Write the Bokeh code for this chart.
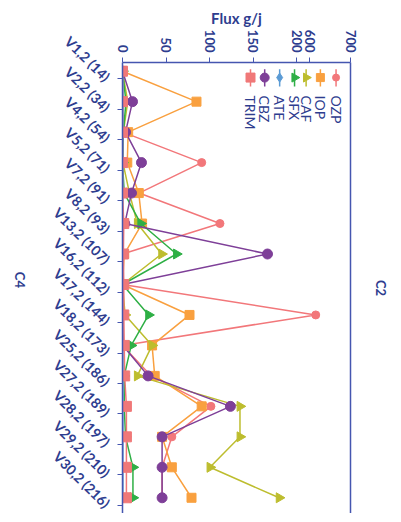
import math
from bokeh.plotting import figure
from bokeh.models import (ColumnDataSource, Range1d, LinearAxis, FixedTicker,
                          CustomJSTickFormatter, CustomJSTransform, Label)
from bokeh.transform import transform
from bokeh.embed import file_html
from bokeh.resources import INLINE

categories = ["V1,2 (14)", "V2,2 (34)", "V4,2 (54)", "V5,2 (71)", "V7,2 (91)",
              "V8,2 (93)", "V13,2 (107)", "V16,2 (112)", "V17,2 (144)",
              "V18,2 (173)", "V25,2 (186)", "V27,2 (189)", "V28,2 (197)",
              "V29,2 (210)", "V30,2 (216)"]

OZP = [0, 0, 0.5, 91, 19, 112, 0, 0, 615, 0, 33, 101.6, 56.7, 45.5, 45.5]
IOP = [0, 85, 6.5, 5.5, 18.7, 22.5, 2, 0, 77, 34, 37, 91, 45.5, 56.7, 79.3]
CAF = [0, 6, 1, 0.5, 8, 17, 45, 0, 3, 34, 17, 135, 135, 100.5, 180]
SFX = [0, 4, 1, 0, 2, 21, 62, 0, 30, 10, 2, 2, 3.5, 12, 12]
ATE = [0.5, 0.5, 0.5, 0.5, 0.5, 0, 0.5, 0.5, 0.5, 0.5, 0.5, 0.5, 0.5, 0.5, 0.5]
CBZ = [0, 11.5, 3.5, 21.8, 10.3, 2.6, 166.6, 0, 0, 0.5, 29.4, 124, 45.5, 45.5, 45.5]
TRIM = [0, 0, 0, 0, 0, 1.5, 1, 1.5, 1.5, 2, 2.5, 4.5, 4.5, 4.5, 4.5]

x_ticks = [0, 50, 100, 150, 200, 600, 700]
series_names = ["OZP", "IOP", "CAF", "SFX", "ATE", "CBZ", "TRIM"]

TEXT = "#2E3D8F"
AXIS = "#4556B0"
FONT = "Lato"

colors = {"OZP": "#F2777A", "IOP": "#F9A03F", "CAF": "#BDBD2E", "SFX": "#2EAF45",
          "ATE": "#5B9BD5", "CBZ": "#7E3F98", "TRIM": "#F07878"}
markers = {"OZP": ("circle", 8, 0), "IOP": ("square", 9, 0),
           "CAF": ("triangle", 10, -math.pi / 2), "SFX": ("triangle", 10, -math.pi / 2),
           "ATE": ("diamond", 10, 0), "CBZ": ("circle", 10, 0), "TRIM": ("square", 10, 0)}

data = dict(idx=list(range(len(categories))), OZP=OZP, IOP=IOP, CAF=CAF,
            SFX=SFX, ATE=ATE, CBZ=CBZ, TRIM=TRIM)
src = ColumnDataSource(data)

# broken value axis: 0-200 linear, then 600-700 compressed
brk = CustomJSTransform(v_func="""
const out = new Array(xs.length);
for (let i = 0; i < xs.length; i++) {
  const v = xs[i];
  out[i] = v <= 200 ? v : 215 + (v - 600) * 0.47;
}
return out;
""")

p = figure(width=392, height=513, output_backend="svg", toolbar_location=None,
           x_range=Range1d(0, 262), y_range=Range1d(14.516, -0.285),
           x_axis_location="above", min_border_left=121, min_border_top=62,
           min_border_right=42, min_border_bottom=0)
p.outline_line_color = None
p.grid.visible = False
p.background_fill_color = "white"

# top value axis
xa = p.xaxis[0]
xa.ticker = FixedTicker(ticks=[0, 50, 100, 150, 200, 215, 262])
xa.major_label_overrides = {215: str(x_ticks[5]), 262: str(x_ticks[6])}
xa.major_label_orientation = -math.pi / 2
xa.axis_label = "Flux g/j"
xa.axis_label_standoff = 0
xa.axis_label_text_font = FONT
xa.axis_label_text_font_style = "bold"
xa.axis_label_text_font_size = "15px"
xa.axis_label_text_color = TEXT
xa.major_label_text_font = FONT
xa.major_label_text_font_style = "bold"
xa.major_label_text_font_size = "13px"
xa.major_label_text_color = TEXT
xa.axis_line_color = AXIS
xa.axis_line_width = 1.5
xa.major_tick_line_color = AXIS
xa.major_tick_out = 5
xa.major_tick_in = 0
xa.minor_tick_line_color = None

# left category axis
ya = p.yaxis[0]
ya.ticker = FixedTicker(ticks=[i + 0.25 for i in range(len(categories))])
ya.formatter = CustomJSTickFormatter(args=dict(cats=categories),
                                     code="return cats[Math.round(tick - 0.25)] || '';")
ya.major_label_orientation = -math.pi / 4
ya.major_label_standoff = 10
ya.major_label_text_font = FONT
ya.major_label_text_font_style = "bold"
ya.major_label_text_font_size = "14px"
ya.major_label_text_color = TEXT
ya.axis_line_color = AXIS
ya.axis_line_width = 1.5
ya.major_tick_line_color = AXIS
ya.major_tick_out = 5
ya.major_tick_in = 0
ya.minor_tick_line_color = None

if "axis_label_orientation" in ya.properties():
    ya.axis_label = "C4"
    ya.axis_label_orientation = -math.pi / 2
    ya.axis_label_standoff = 21
    ya.axis_label_text_font = FONT
    ya.axis_label_text_font_style = "bold"
    ya.axis_label_text_font_size = "13px"
    ya.axis_label_text_color = TEXT
else:
    ya.axis_label = "C4"
    ya.axis_label_standoff = 21
    ya.axis_label_text_font = FONT
    ya.axis_label_text_font_style = "bold"
    ya.axis_label_text_font_size = "13px"
    ya.axis_label_text_color = TEXT

# right border axis
ra = LinearAxis(ticker=FixedTicker(ticks=[]), axis_label="C2")
ra.axis_line_color = AXIS
ra.axis_line_width = 1.5
ra.major_label_text_font_size = "0px"
ra.axis_label_text_font = FONT
ra.axis_label_text_font_style = "bold"
ra.axis_label_text_font_size = "13px"
ra.axis_label_text_color = TEXT
ra.axis_label_standoff = 22
p.add_layout(ra, "right")

for name in series_names:
    c = colors[name]
    m, s, a = markers[name]
    xv = transform(name, brk)
    p.line(x=xv, y="idx", source=src, line_color=c, line_width=1.5)
    p.scatter(x=xv, y="idx", source=src, marker=m, size=s, angle=a,
              fill_color=c, line_color=c)

# legend (rotated, inside plot area)
leg_x = {"OZP": 245.4, "IOP": 227.4, "CAF": 211.0, "SFX": 197.7,
         "ATE": 180.6, "CBZ": 163.4, "TRIM": 147.1}
for name in series_names:
    c = colors[name]
    m, s, a = markers[name]
    lx = leg_x[name]
    p.segment(x0=[lx], y0=[-0.06], x1=[lx], y1=[0.5], line_color=c, line_width=1.5)
    p.scatter(x=[lx], y=[0.21], marker=m, size=s - 1, angle=a, fill_color=c, line_color=c)
    p.add_layout(Label(x=lx, y=0.8, text=name, angle=-math.pi / 2,
                       text_align="left", text_baseline="middle",
                       text_font=FONT, text_font_size="14px", text_color=TEXT))

open("out.html", "w").write(file_html(p, INLINE))
